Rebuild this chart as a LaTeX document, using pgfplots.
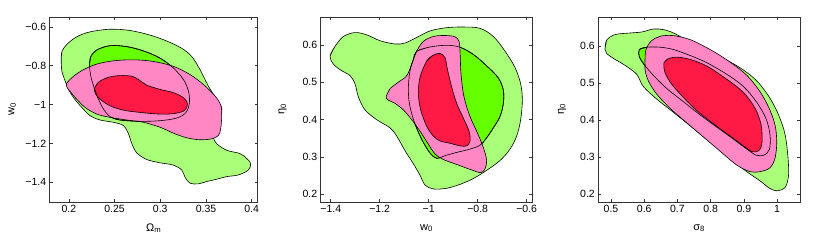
\documentclass[border=0pt]{standalone}
\usepackage{pgfplots}
\pgfplotsset{compat=1.18}
\usepackage{fontspec}
\setmainfont{Liberation Sans}
\definecolor{lg}{RGB}{170,255,120}
\definecolor{bg}{RGB}{102,255,0}
\definecolor{pk}{RGB}{255,136,196}
\definecolor{rd}{RGB}{255,26,70}
\pgfplotsset{
  every axis/.append style={
    scale only axis, anchor=south west,
    tick align=inside, major tick length=3pt,
    axis line style={black!80, line width=0.6pt},
    tick style={black!80, line width=0.5pt},
    ticklabel style={font=\fontsize{10.5}{11}\selectfont},
    label style={font=\fontsize{11}{12}\selectfont},
    xlabel style={at={(axis description cs:0.5,0)}, anchor=center, yshift=-26pt},
    ylabel style={at={(axis description cs:-0.18,0.5)}, anchor=center, rotate=0},
  },
  ct/.style={draw=black, line width=0.6pt, smooth, tension=0.55, mark=none},
}
\begin{document}
\begin{tikzpicture}
\useasboundingbox (0,0) rectangle (817pt,242pt);
% ---------------- Panel 1 ----------------
\begin{axis}[at={(49.7pt,40pt)}, width=208pt, height=185pt,
  xmin=0.179, xmax=0.4066, ymin=-1.502, ymax=-0.549,
  xtick={0.2,0.25,0.3,0.35,0.4}, xticklabels={0.2,0.25,0.3,0.35,0.4},
  ytick={-1.4,-1.2,-1,-0.8,-0.6}, yticklabels={−1.4,−1.2,−1,−0.8,−0.6},
  xlabel={Ω\textsubscript{m}}, ylabel={w\textsubscript{0}}]
\addplot[ct, fill=lg] coordinates {
(0.1916,-0.7695) (0.1924,-0.7271) (0.1978,-0.6898) (0.2087,-0.6508) (0.2233,-0.6254)
(0.2452,-0.6119) (0.2670,-0.6186) (0.2889,-0.6424) (0.3071,-0.6729) (0.3235,-0.7102)
(0.3344,-0.7525) (0.3435,-0.8203) (0.3526,-0.9051) (0.3617,-0.9729) (0.3672,-1.0153)
(0.3661,-1.0661) (0.3599,-1.1254) (0.3581,-1.1678) (0.3617,-1.2017) (0.3727,-1.2356)
(0.3872,-1.2525) (0.3945,-1.2780) (0.3989,-1.3034) (0.3964,-1.3373) (0.3854,-1.3627)
(0.3727,-1.3712) (0.3617,-1.3847) (0.3508,-1.3966) (0.3417,-1.4085) (0.3326,-1.4051)
(0.3271,-1.3746) (0.3235,-1.3373) (0.3144,-1.3119) (0.2998,-1.3000) (0.2852,-1.2831)
(0.2743,-1.2492) (0.2689,-1.2017) (0.2652,-1.1508) (0.2597,-1.1085) (0.2488,-1.0915)
(0.2342,-1.0797) (0.2233,-1.0576) (0.2142,-1.0153) (0.2051,-0.9644) (0.1996,-0.9220)
(0.1960,-0.8797) (0.1924,-0.8288) (0.1916,-0.7695) (0.1924,-0.7271)};
\addplot[ct, fill=bg] coordinates {
(0.2226,-0.7949) (0.2240,-0.7525) (0.2306,-0.7186) (0.2452,-0.6966) (0.2634,-0.7017)
(0.2816,-0.7237) (0.2998,-0.7610) (0.3144,-0.8119) (0.3253,-0.8712) (0.3308,-0.9305)
(0.3319,-0.9898) (0.3282,-1.0407) (0.3180,-1.0695) (0.2998,-1.0831) (0.2780,-1.0864)
(0.2561,-1.0797) (0.2452,-1.0627) (0.2379,-1.0237) (0.2324,-0.9729) (0.2277,-0.9136)
(0.2240,-0.8542) (0.2226,-0.7949) (0.2240,-0.7525)};
\addplot[ct, fill=pk] coordinates {
(0.1978,-0.8881) (0.2051,-0.8542) (0.2160,-0.8203) (0.2306,-0.7915) (0.2488,-0.7746)
(0.2707,-0.7695) (0.2925,-0.7780) (0.3144,-0.8034) (0.3326,-0.8458) (0.3472,-0.8966)
(0.3599,-0.9559) (0.3661,-1.0017) (0.3672,-1.0576) (0.3661,-1.1254) (0.3636,-1.1593)
(0.3563,-1.1763) (0.3435,-1.1814) (0.3290,-1.1712) (0.3144,-1.1475) (0.2998,-1.1169)
(0.2816,-1.0915) (0.2634,-1.0797) (0.2452,-1.0661) (0.2306,-1.0492) (0.2179,-1.0153)
(0.2087,-0.9729) (0.2015,-0.9339) (0.1978,-0.9102) (0.1978,-0.8881) (0.2051,-0.8542)};
\addplot[ct, fill=rd] coordinates {
(0.2281,-0.9169) (0.2324,-0.8847) (0.2434,-0.8593) (0.2561,-0.8508) (0.2689,-0.8542)
(0.2761,-0.8712) (0.2852,-0.9000) (0.2998,-0.9220) (0.3144,-0.9390) (0.3253,-0.9644)
(0.3297,-0.9949) (0.3271,-1.0288) (0.3162,-1.0458) (0.2998,-1.0492) (0.2780,-1.0407)
(0.2597,-1.0288) (0.2452,-1.0068) (0.2342,-0.9729) (0.2291,-0.9441) (0.2281,-0.9169)
(0.2324,-0.8847)};
\addplot[ct] coordinates {
(0.2226,-0.7949) (0.2240,-0.7525) (0.2306,-0.7186) (0.2452,-0.6966) (0.2634,-0.7017)
(0.2816,-0.7237) (0.2998,-0.7610) (0.3144,-0.8119) (0.3253,-0.8712) (0.3308,-0.9305)
(0.3319,-0.9898) (0.3282,-1.0407) (0.3180,-1.0695) (0.2998,-1.0831) (0.2780,-1.0864)
(0.2561,-1.0797) (0.2452,-1.0627) (0.2379,-1.0237) (0.2324,-0.9729) (0.2277,-0.9136)
(0.2240,-0.8542) (0.2226,-0.7949) (0.2240,-0.7525)};
\end{axis}
% ---------------- Panel 2 ----------------
\begin{axis}[at={(320.7pt,40pt)}, width=211.6pt, height=185pt,
  xmin=-1.441, xmax=-0.577, ymin=0.179, ymax=0.675,
  xtick={-1.4,-1.2,-1,-0.8,-0.6}, xticklabels={−1.4,−1.2,−1,−0.8,−0.6},
  ytick={0.2,0.3,0.4,0.5,0.6}, yticklabels={0.2,0.3,0.4,0.5,0.6},
  xlabel={w\textsubscript{0}}, ylabel={η\textsubscript{0}}]
\addplot[ct, fill=lg] coordinates {
(-1.4027,0.5702) (-1.3823,0.5965) (-1.3483,0.6228) (-1.3007,0.6333) (-1.2531,0.6271)
(-1.1986,0.6114) (-1.1374,0.6026) (-1.0966,0.6053) (-1.0490,0.6201) (-0.9946,0.6376)
(-0.9265,0.6464) (-0.8585,0.6481) (-0.7905,0.6446) (-0.7361,0.6228) (-0.6884,0.5834)
(-0.6476,0.5396) (-0.6245,0.4958) (-0.6177,0.4521) (-0.6245,0.3996) (-0.6408,0.3558)
(-0.6680,0.3208) (-0.7088,0.2902) (-0.7633,0.2639) (-0.8177,0.2420) (-0.8721,0.2263)
(-0.9265,0.2158) (-0.9810,0.2140) (-1.0150,0.2245) (-1.0354,0.2508) (-1.0626,0.2814)
(-1.0966,0.3164) (-1.1306,0.3558) (-1.1578,0.3777) (-1.2122,0.3996) (-1.2599,0.4258)
(-1.2871,0.4608) (-1.3007,0.4958) (-1.3211,0.5177) (-1.3551,0.5309) (-1.3891,0.5484)
(-1.4027,0.5702) (-1.3823,0.5965)};
\addplot[ct, fill=bg] coordinates {
(-1.0490,0.5834) (-0.9946,0.5947) (-0.9265,0.5991) (-0.8721,0.5939) (-0.8177,0.5746)
(-0.7633,0.5440) (-0.7156,0.5116) (-0.6952,0.4783) (-0.6952,0.4433) (-0.7088,0.4083)
(-0.7361,0.3777) (-0.7660,0.3488) (-0.7905,0.3313) (-0.8313,0.3208) (-0.8857,0.3120)
(-0.9333,0.3033) (-0.9673,0.2963) (-0.9946,0.3103) (-1.0286,0.3470) (-1.0599,0.3952)
(-1.0789,0.4433) (-1.0830,0.4871) (-1.0762,0.5309) (-1.0626,0.5615) (-1.0490,0.5834)
(-0.9946,0.5947)};
\addplot[ct, fill=pk] coordinates {
(-1.1741,0.4608) (-1.1578,0.4827) (-1.1238,0.5002) (-1.0898,0.5177) (-1.0694,0.5484)
(-1.0490,0.5834) (-1.0218,0.6096) (-0.9810,0.6228) (-0.9333,0.6254) (-0.8925,0.6219)
(-0.8762,0.6096) (-0.8721,0.5834) (-0.8680,0.5221) (-0.8558,0.4608) (-0.8313,0.4083)
(-0.8014,0.3646) (-0.7769,0.3252) (-0.7633,0.2902) (-0.7701,0.2683) (-0.7878,0.2578)
(-0.8313,0.2665) (-0.8857,0.2797) (-0.9401,0.2928) (-0.9741,0.3077) (-1.0014,0.3339)
(-1.0354,0.3689) (-1.0694,0.3996) (-1.1034,0.4258) (-1.1374,0.4433) (-1.1646,0.4521)
(-1.1741,0.4608) (-1.1578,0.4827)};
\addplot[ct, fill=rd] coordinates {
(-1.0082,0.5571) (-0.9810,0.5729) (-0.9537,0.5772) (-0.9333,0.5659) (-0.9238,0.5352)
(-0.9061,0.4871) (-0.8857,0.4433) (-0.8585,0.4039) (-0.8354,0.3689) (-0.8313,0.3427)
(-0.8449,0.3295) (-0.8721,0.3295) (-0.9129,0.3365) (-0.9537,0.3427) (-0.9810,0.3558)
(-1.0082,0.3821) (-1.0327,0.4258) (-1.0422,0.4696) (-1.0354,0.5133) (-1.0082,0.5571)
(-0.9810,0.5729)};
\addplot[ct] coordinates {
(-1.0490,0.5834) (-0.9946,0.5947) (-0.9265,0.5991) (-0.8721,0.5939) (-0.8177,0.5746)
(-0.7633,0.5440) (-0.7156,0.5116) (-0.6952,0.4783) (-0.6952,0.4433) (-0.7088,0.4083)
(-0.7361,0.3777) (-0.7660,0.3488) (-0.7905,0.3313) (-0.8313,0.3208) (-0.8857,0.3120)
(-0.9333,0.3033) (-0.9673,0.2963) (-0.9946,0.3103) (-1.0286,0.3470) (-1.0599,0.3952)
(-1.0789,0.4433) (-1.0830,0.4871) (-1.0762,0.5309) (-1.0626,0.5615) (-1.0490,0.5834)
(-0.9946,0.5947)};
\end{axis}
% ---------------- Panel 3 ----------------
\begin{axis}[at={(598.3pt,40pt)}, width=201.7pt, height=185pt,
  xmin=0.4618, xmax=1.069, ymin=0.1786, ymax=0.679,
  xtick={0.5,0.6,0.7,0.8,0.9,1}, xticklabels={0.5,0.6,0.7,0.8,0.9,1},
  ytick={0.2,0.3,0.4,0.5,0.6}, yticklabels={0.2,0.3,0.4,0.5,0.6},
  xlabel={σ\textsubscript{8}}, ylabel={η\textsubscript{0}}]
\addplot[ct, fill=lg] coordinates {
(0.4819,0.5911) (0.4869,0.6161) (0.5120,0.6313) (0.5572,0.6357) (0.5924,0.6384)
(0.6275,0.6464) (0.6596,0.6446) (0.6928,0.6339) (0.7380,0.6107) (0.7982,0.5821)
(0.8534,0.5598) (0.8986,0.5357) (0.9388,0.5063) (0.9739,0.4661) (1.0010,0.4214)
(1.0211,0.3723) (1.0291,0.3321) (1.0341,0.2830) (1.0341,0.2473) (1.0241,0.2179)
(0.9990,0.2089) (0.9769,0.2161) (0.9488,0.2357) (0.9086,0.2607) (0.8584,0.2964)
(0.7982,0.3411) (0.7430,0.3813) (0.6877,0.4214) (0.6376,0.4571) (0.5974,0.4911)
(0.5773,0.5241) (0.5422,0.5482) (0.5090,0.5661) (0.4869,0.5804) (0.4819,0.5911)
(0.4869,0.6161)};
\addplot[ct, fill=bg] coordinates {
(0.5853,0.5911) (0.6074,0.5973) (0.6476,0.5973) (0.6877,0.5911) (0.7380,0.5750)
(0.7882,0.5554) (0.8484,0.5241) (0.8986,0.4911) (0.9388,0.4482) (0.9669,0.4036)
(0.9789,0.3589) (0.9769,0.3214) (0.9608,0.3054) (0.9367,0.3054) (0.9066,0.3232)
(0.8665,0.3500) (0.8183,0.3813) (0.7681,0.4143) (0.7179,0.4500) (0.6677,0.4857)
(0.6275,0.5214) (0.5994,0.5509) (0.5853,0.5714) (0.5853,0.5911) (0.6074,0.5973)};
\addplot[ct, fill=pk] coordinates {
(0.6024,0.5375) (0.6024,0.5643) (0.6054,0.5911) (0.6205,0.6134) (0.6476,0.6268)
(0.6877,0.6286) (0.7380,0.6179) (0.7982,0.5911) (0.8584,0.5571) (0.9086,0.5214)
(0.9488,0.4768) (0.9769,0.4304) (0.9940,0.3857) (0.9990,0.3411) (0.9940,0.2982)
(0.9789,0.2714) (0.9488,0.2607) (0.9187,0.2607) (0.8785,0.2786) (0.8283,0.3161)
(0.7781,0.3545) (0.7279,0.3929) (0.6777,0.4321) (0.6376,0.4705) (0.6124,0.5063)
(0.6024,0.5375) (0.6024,0.5643)};
\addplot[ct, fill=rd] coordinates {
(0.6596,0.5554) (0.6727,0.5661) (0.6978,0.5705) (0.7380,0.5643) (0.7882,0.5464)
(0.8484,0.5107) (0.8986,0.4750) (0.9337,0.4321) (0.9518,0.3875) (0.9548,0.3411)
(0.9468,0.3188) (0.9267,0.3143) (0.8986,0.3304) (0.8584,0.3571) (0.8082,0.3902)
(0.7580,0.4259) (0.7179,0.4616) (0.6827,0.4973) (0.6627,0.5286) (0.6596,0.5554)
(0.6727,0.5661)};
\addplot[ct] coordinates {
(0.5853,0.5911) (0.6074,0.5973) (0.6476,0.5973) (0.6877,0.5911) (0.7380,0.5750)
(0.7882,0.5554) (0.8484,0.5241) (0.8986,0.4911) (0.9388,0.4482) (0.9669,0.4036)
(0.9789,0.3589) (0.9769,0.3214) (0.9608,0.3054) (0.9367,0.3054) (0.9066,0.3232)
(0.8665,0.3500) (0.8183,0.3813) (0.7681,0.4143) (0.7179,0.4500) (0.6677,0.4857)
(0.6275,0.5214) (0.5994,0.5509) (0.5853,0.5714) (0.5853,0.5911) (0.6074,0.5973)};
\end{axis}
\end{tikzpicture}
\end{document}
